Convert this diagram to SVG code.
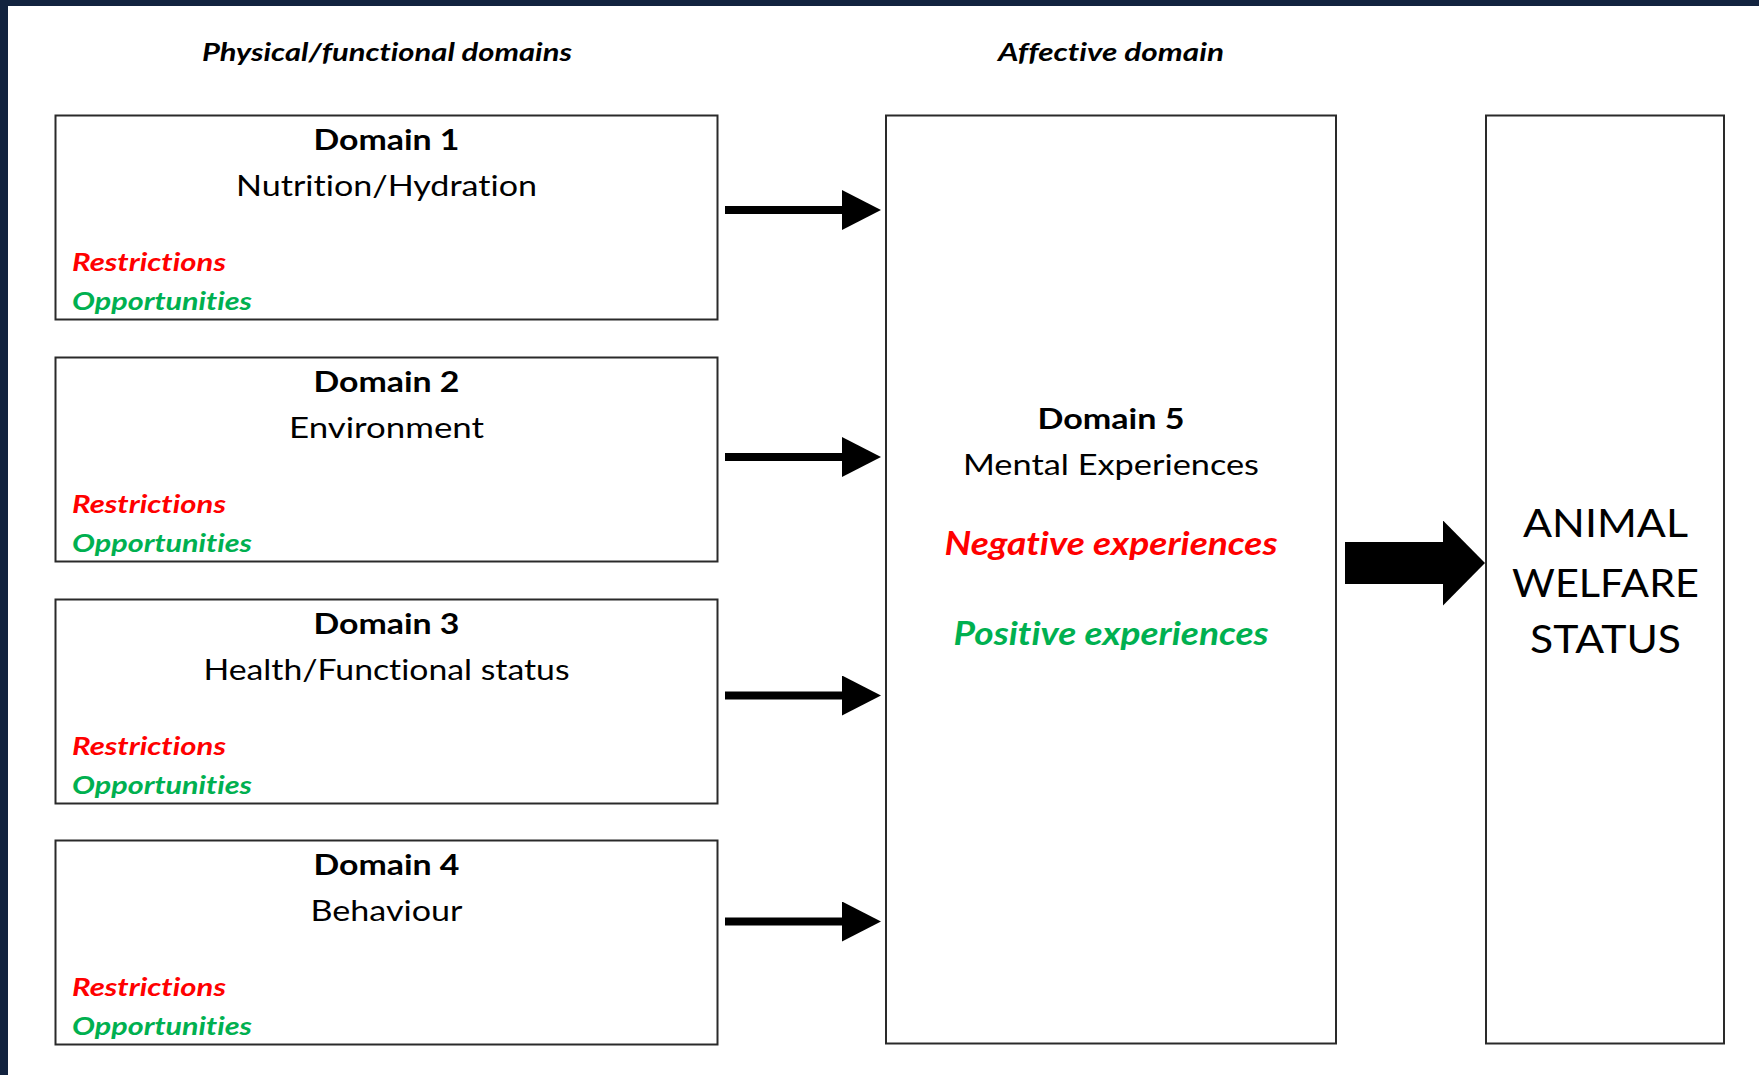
<svg xmlns="http://www.w3.org/2000/svg" width="1759" height="1075" viewBox="0 0 1759 1075">
  <style>
    .box { fill: #ffffff; stroke: #2a2a2a; stroke-width: 2; }
    .t { font-family: Lato, "Open Sans", "Liberation Sans", sans-serif; fill: #000; font-variant-ligatures: none; }
    .head { font-size: 25px; font-weight: bold; font-style: italic; }
    .dom { font-size: 29px; font-weight: bold; text-anchor: middle; }
    .sub { font-size: 29px; text-anchor: middle; }
    .res { font-size: 25px; font-weight: bold; font-style: italic; fill: #ff0000; }
    .opp { font-size: 25px; font-weight: bold; font-style: italic; fill: #00b050; }
    .neg { font-size: 32px; font-weight: bold; font-style: italic; fill: #ff0000; text-anchor: middle; }
    .pos { font-size: 32px; font-weight: bold; font-style: italic; fill: #00b050; text-anchor: middle; }
    .aws { font-size: 38px; text-anchor: middle; }
    .conn { stroke: #000; fill: none; }
  </style>
  <defs>
    <marker id="head" markerUnits="userSpaceOnUse" markerWidth="40" markerHeight="40" refX="1" refY="20" orient="auto">
      <path d="M0,0 L39,20 L0,40 Z" fill="#000"/>
    </marker>
    <marker id="bighead" markerUnits="userSpaceOnUse" markerWidth="43" markerHeight="86" refX="1" refY="42.5" orient="auto">
      <path d="M0,0 L42,42.5 L0,85 Z" fill="#000"/>
    </marker>
  </defs>

  <rect x="0" y="0" width="1759" height="1075" fill="#ffffff"/>
  <rect x="0" y="0" width="1759" height="6" fill="#12233f"/>
  <rect x="0" y="0" width="8" height="1075" fill="#12233f"/>

  <g id="headings">
    <text class="t head" x="387" y="61" text-anchor="middle" textLength="370" lengthAdjust="spacingAndGlyphs">Physical/functional domains</text>
    <text class="t head" x="1111" y="61" text-anchor="middle" textLength="226" lengthAdjust="spacingAndGlyphs">Affective domain</text>
  </g>

  <g id="domain1">
    <rect class="box" x="55.5" y="115.5" width="662" height="204"/>
    <text class="t dom" x="386.5" y="149.5" textLength="146" lengthAdjust="spacingAndGlyphs">Domain 1</text>
    <text class="t sub" x="386.5" y="195.5" textLength="301" lengthAdjust="spacingAndGlyphs">Nutrition/Hydration</text>
    <text class="t res" x="72" y="270.5" textLength="154" lengthAdjust="spacingAndGlyphs">Restrictions</text>
    <text class="t opp" x="72" y="310" textLength="180" lengthAdjust="spacingAndGlyphs">Opportunities</text>
  </g>

  <g id="domain2">
    <rect class="box" x="55.5" y="357.5" width="662" height="204"/>
    <text class="t dom" x="386.5" y="391.5" textLength="146" lengthAdjust="spacingAndGlyphs">Domain 2</text>
    <text class="t sub" x="386.5" y="437.5" textLength="195" lengthAdjust="spacingAndGlyphs">Environment</text>
    <text class="t res" x="72" y="512.5" textLength="154" lengthAdjust="spacingAndGlyphs">Restrictions</text>
    <text class="t opp" x="72" y="552" textLength="180" lengthAdjust="spacingAndGlyphs">Opportunities</text>
  </g>

  <g id="domain3">
    <rect class="box" x="55.5" y="599.5" width="662" height="204"/>
    <text class="t dom" x="386.5" y="633.5" textLength="146" lengthAdjust="spacingAndGlyphs">Domain 3</text>
    <text class="t sub" x="386.5" y="679.5" textLength="366" lengthAdjust="spacingAndGlyphs">Health/Functional status</text>
    <text class="t res" x="72" y="754.5" textLength="154" lengthAdjust="spacingAndGlyphs">Restrictions</text>
    <text class="t opp" x="72" y="794" textLength="180" lengthAdjust="spacingAndGlyphs">Opportunities</text>
  </g>

  <g id="domain4">
    <rect class="box" x="55.5" y="840.5" width="662" height="204"/>
    <text class="t dom" x="386.5" y="874.5" textLength="146" lengthAdjust="spacingAndGlyphs">Domain 4</text>
    <text class="t sub" x="386.5" y="920.5" textLength="152" lengthAdjust="spacingAndGlyphs">Behaviour</text>
    <text class="t res" x="72" y="995.5" textLength="154" lengthAdjust="spacingAndGlyphs">Restrictions</text>
    <text class="t opp" x="72" y="1035" textLength="180" lengthAdjust="spacingAndGlyphs">Opportunities</text>
  </g>

  <g id="domain5">
    <rect class="box" x="886" y="115.5" width="450" height="928"/>
    <text class="t dom" x="1111" y="429" textLength="147" lengthAdjust="spacingAndGlyphs">Domain 5</text>
    <text class="t sub" x="1111" y="475" textLength="296" lengthAdjust="spacingAndGlyphs">Mental Experiences</text>
    <text class="t neg" x="1111" y="554.5" textLength="333" lengthAdjust="spacingAndGlyphs">Negative experiences</text>
    <text class="t pos" x="1111" y="644.5" textLength="315" lengthAdjust="spacingAndGlyphs">Positive experiences</text>
  </g>

  <g id="welfare">
    <rect class="box" x="1486" y="115.5" width="238" height="928"/>
    <text class="t aws" x="1605.5" y="537" textLength="165" lengthAdjust="spacingAndGlyphs">ANIMAL</text>
    <text class="t aws" x="1605.5" y="596.5" textLength="187" lengthAdjust="spacingAndGlyphs">WELFARE</text>
    <text class="t aws" x="1605.5" y="653" textLength="151" lengthAdjust="spacingAndGlyphs">STATUS</text>
  </g>

  <g id="connectors">
    <line class="conn" x1="725" y1="210" x2="843" y2="210" stroke-width="8" marker-end="url(#head)"/>
    <line class="conn" x1="725" y1="457" x2="843" y2="457" stroke-width="8" marker-end="url(#head)"/>
    <line class="conn" x1="725" y1="695.5" x2="843" y2="695.5" stroke-width="8" marker-end="url(#head)"/>
    <line class="conn" x1="725" y1="921.5" x2="843" y2="921.5" stroke-width="8" marker-end="url(#head)"/>
    <line class="conn" x1="1345" y1="563" x2="1444" y2="563" stroke-width="42" marker-end="url(#bighead)"/>
  </g>
</svg>
